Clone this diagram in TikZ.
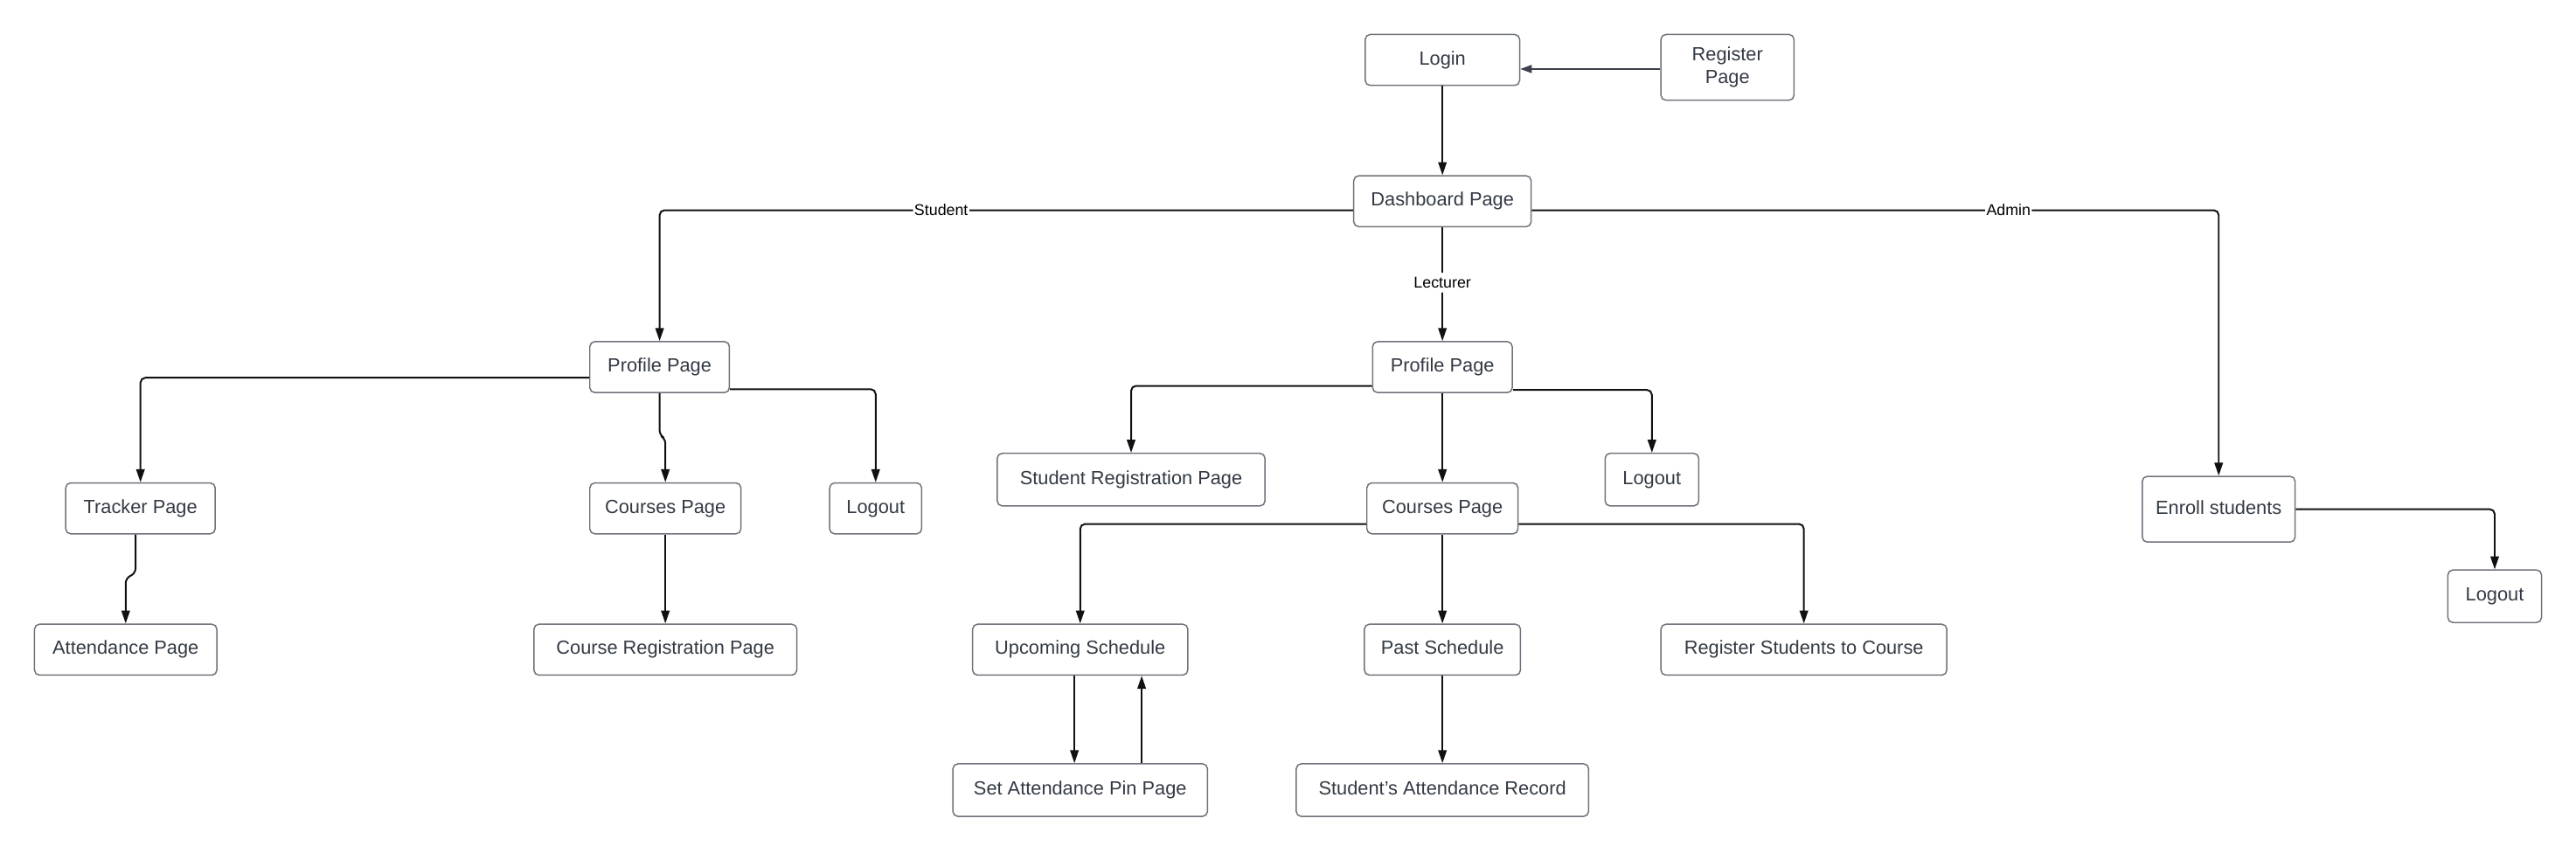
\documentclass[tikz,border=0pt]{standalone}
\usepackage{fontspec}
\setmainfont{Liberation Sans}
\usetikzlibrary{arrows.meta,calc}
\definecolor{txt}{HTML}{333A44}
\definecolor{boxline}{HTML}{6E737A}
\definecolor{lineclr}{HTML}{111111}
\definecolor{reglink}{HTML}{3A414B}
\begin{document}
\begin{tikzpicture}[x=0.02cm,y=-0.02cm,
 box/.style={draw=boxline, line width=0.45pt, rounded corners=1.7pt, text=txt,
   font=\fontsize{6.6}{7.9}\selectfont, inner sep=0pt, align=center, fill=white},
 pagebox/.style={box, text height=4.9pt, text depth=1.5pt},
 conn/.style={draw=lineclr, line width=0.6pt, rounded corners=1.7pt,
   -{Triangle[length=4.5pt,width=2.9pt]}},
 regconn/.style={draw=reglink, line width=0.5pt, -{Triangle[length=4pt,width=2.8pt]}},
 lbl/.style={font=\fontsize{5.4}{6}\selectfont, text=black, fill=white, inner sep=0.4pt}]
\useasboundingbox (0,0) rectangle (1568,518.8);

% nodes
\node[pagebox, minimum width=1.88cm, minimum height=0.62cm] (login) at (878,36.5) {Login};
\node[box, minimum width=1.62cm, minimum height=0.80cm] (reg) at (1051.5,41) {Register\\Page};
\node[pagebox, minimum width=2.16cm, minimum height=0.62cm] (dash) at (878,122.5) {Dashboard Page};

\node[pagebox, minimum width=1.70cm, minimum height=0.62cm] (profS) at (401.5,223.5) {Profile Page};
\node[pagebox, minimum width=1.70cm, minimum height=0.62cm] (profL) at (878,223.5) {Profile Page};

\node[pagebox, minimum width=1.82cm, minimum height=0.62cm] (tracker) at (85.5,309.5) {Tracker Page};
\node[pagebox, minimum width=2.22cm, minimum height=0.62cm] (attend) at (76.5,395.5) {Attendance Page};
\node[pagebox, minimum width=1.84cm, minimum height=0.62cm] (coursesS) at (405,309.5) {Courses Page};
\node[pagebox, minimum width=1.12cm, minimum height=0.62cm] (logoutS) at (533,309.5) {Logout};
\node[pagebox, minimum width=3.20cm, minimum height=0.62cm] (coursereg) at (405,395.5) {Course Registration Page};

\node[pagebox, minimum width=3.26cm, minimum height=0.64cm] (studreg) at (688.5,292) {Student Registration Page};
\node[pagebox, minimum width=1.84cm, minimum height=0.62cm] (coursesL) at (878,309.5) {Courses Page};
\node[pagebox, minimum width=1.14cm, minimum height=0.64cm] (logoutL) at (1005.5,292) {Logout};
\node[pagebox, minimum width=2.62cm, minimum height=0.62cm] (upc) at (657.5,395.5) {Upcoming Schedule};
\node[pagebox, minimum width=1.90cm, minimum height=0.62cm] (past) at (878,395.5) {Past Schedule};
\node[pagebox, minimum width=3.48cm, minimum height=0.62cm] (regstud) at (1098,395.5) {Register Students to Course};
\node[pagebox, minimum width=3.10cm, minimum height=0.64cm] (setpin) at (657.5,481) {Set Attendance Pin Page};
\node[pagebox, minimum width=3.56cm, minimum height=0.64cm] (sar) at (878,481) {Student{\char"27}s Attendance Record};

\node[pagebox, minimum width=1.86cm, minimum height=0.80cm] (enroll) at (1350.5,310) {Enroll students};
\node[pagebox, minimum width=1.14cm, minimum height=0.64cm] (logoutA) at (1518.5,363) {Logout};

% connectors
\coordinate (rr) at ([yshift=-0.57pt]reg.west);
\draw[regconn] (rr) -- (rr -| login.east);
\draw[conn] (login.south) -- (dash.north);

\coordinate (d1) at ([yshift=-3.12pt]dash.west);
\draw[conn] (d1) -| node[lbl, pos=0.297] {Student} (profS.north);
\coordinate (d2) at ([yshift=-3.12pt]dash.east);
\draw[conn] (d2) -| node[lbl, pos=0.347] {Admin} (enroll.north);
\draw[conn] (dash.south) -- node[lbl, pos=0.486, inner ysep=1.5pt] {Lecturer} (profL.north);

% student branch
\coordinate (p1) at ([yshift=-3.68pt]profS.west);
\draw[conn] (p1) -| (tracker.north);
\coordinate (pjA) at (402,265);
\coordinate (pjB) at (405,267);
\draw[conn] (profS.south) -- (profS.south |- pjA) -- (coursesS.north |- pjB) -- (coursesS.north);
\coordinate (p2) at ([yshift=-7.65pt]profS.east);
\draw[conn] (p2) -| (logoutS.north);
\coordinate (t1) at ([xshift=-1.7pt]tracker.south);
\coordinate (tjA) at (82.5,349);
\coordinate (tjB) at (76.5,352);
\draw[conn] (t1) -- (t1 |- tjA) -- (attend.north |- tjB) -- (attend.north);
\draw[conn] (coursesS.south) -- (coursereg.north);

% lecturer branch
\coordinate (l1) at ([yshift=-6.5pt]profL.west);
\draw[conn] (l1) -| (studreg.north);
\draw[conn] (profL.south) -- (coursesL.north);
\coordinate (l2) at ([yshift=-7.9pt]profL.east);
\draw[conn] (l2) -| (logoutL.north);
\coordinate (c1) at ([yshift=-5.4pt]coursesL.west);
\draw[conn] (c1) -| (upc.north);
\draw[conn] (coursesL.south) -- (past.north);
\coordinate (c2) at ([yshift=-5.4pt]coursesL.east);
\draw[conn] (c2) -| (regstud.north);
\coordinate (u1) at ([xshift=-2pt]upc.south);
\draw[conn] (u1) -- (u1 |- setpin.north);
\coordinate (u2) at ([xshift=21.3pt]setpin.north);
\draw[conn] (u2) -- (u2 |- upc.south);
\draw[conn] (past.south) -- (sar.north);

% admin branch
\draw[conn] (enroll.east) -| (logoutA.north);
\end{tikzpicture}
\end{document}
